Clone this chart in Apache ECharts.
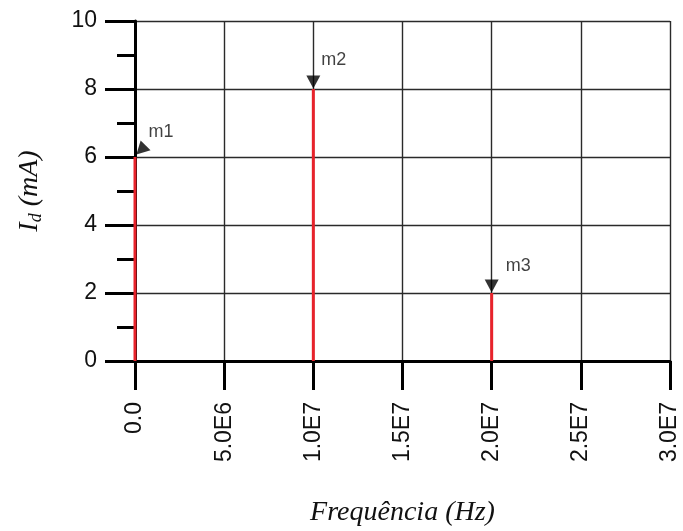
<!DOCTYPE html>
<html>
<head>
<meta charset="utf-8">
<script src="https://cdn.jsdelivr.net/npm/echarts@6/dist/echarts.min.js"></script>
<style>html,body{margin:0;padding:0;background:#fff}#c{width:683px;height:531px}</style>
</head>
<body>
<div id="c"></div>
<script>
var frequencies = [0, 1e7, 2e7];
var currents = [6, 8, 2];
var markerNames = ['m1', 'm2', 'm3'];
var xTickLabels = ['0.0', '5.0E6', '1.0E7', '1.5E7', '2.0E7', '2.5E7', '3.0E7'];
var yTickLabels = ['0', '2', '4', '6', '8', '10'];

var stemData = frequencies.map(function (f, i) { return [f, currents[i]]; });
var markerStyles = [
  { rot: 135, off: [6, -7], lab: { distance: 0, offset: [-2, -18] } },
  { rot: 180, off: [0, -7], lab: { distance: 1, offset: [0, -22] } },
  { rot: 180, off: [0, -7], lab: { distance: 7, offset: [0, -20] } }
];
var markerData = frequencies.map(function (f, i) {
  var s = markerStyles[i];
  return {
    name: markerNames[i],
    value: [f, currents[i]],
    symbolRotate: s.rot,
    symbolOffset: s.off,
    label: { distance: s.lab.distance, offset: s.lab.offset }
  };
});

var chart = echarts.init(document.getElementById('c'), null, { renderer: 'canvas' });
chart.setOption({
  animation: false,
  backgroundColor: '#fff',
  grid: { left: 135, right: 13, top: 21, bottom: 170, containLabel: false, outerBoundsMode: 'none' },
  xAxis: {
    type: 'value', min: 0, max: 3e7, interval: 5e6,
    name: 'Frequência (Hz)', nameLocation: 'middle', nameGap: 138, nameMoveOverlap: false,
    nameTextStyle: { fontFamily: 'Liberation Serif', fontStyle: 'italic', fontSize: 28, color: '#111' },
    axisLine: { show: true, onZero: false, lineStyle: { color: '#000', width: 3 } },
    axisTick: { show: true, length: 29, lineStyle: { color: '#000', width: 3 } },
    axisLabel: {
      rotate: 90, margin: 41, fontFamily: 'Liberation Sans', fontSize: 23, color: '#111',
      formatter: function (v) { return xTickLabels[Math.round(v / 5e6)]; }
    },
    splitLine: { show: true, lineStyle: { color: '#2a2a2a', width: 1.4 } }
  },
  yAxis: {
    type: 'value', min: 0, max: 10, interval: 2,
    name: '{i|I}{d|d}{u| (mA)}', nameLocation: 'middle', nameGap: 90, nameRotate: 90, nameMoveOverlap: false,
    nameTextStyle: {
      rich: {
        i: { fontFamily: 'Liberation Serif', fontStyle: 'italic', fontSize: 28, color: '#111' },
        d: { fontFamily: 'Liberation Serif', fontStyle: 'italic', fontSize: 18, color: '#111', padding: [12, 0, 0, 0] },
        u: { fontFamily: 'Liberation Serif', fontStyle: 'italic', fontSize: 28, color: '#111' }
      }
    },
    axisLine: { show: true, lineStyle: { color: '#000', width: 3 } },
    axisTick: { show: true, length: 30, lineStyle: { color: '#000', width: 3 } },
    minorTick: { show: true, splitNumber: 2, length: 18, lineStyle: { color: '#000', width: 3 } },
    axisLabel: {
      margin: 38, fontFamily: 'Liberation Sans', fontSize: 23, color: '#111',
      formatter: function (v) { return yTickLabels[Math.round(v / 2)]; }
    },
    splitLine: { show: true, lineStyle: { color: '#2a2a2a', width: 1.4 } }
  },
  series: [
    {
      type: 'bar', data: stemData, barWidth: 3,
      itemStyle: { color: '#e8232b' }, z: 3
    },
    {
      type: 'scatter', data: markerData, symbol: 'triangle', symbolSize: [14, 13],
      itemStyle: { color: '#000' }, z: 4,
      label: {
        show: true, position: 'right', formatter: '{b}',
        fontFamily: 'Liberation Sans', fontSize: 18, color: '#111'
      }
    }
  ]
});
</script>
</body>
</html>
